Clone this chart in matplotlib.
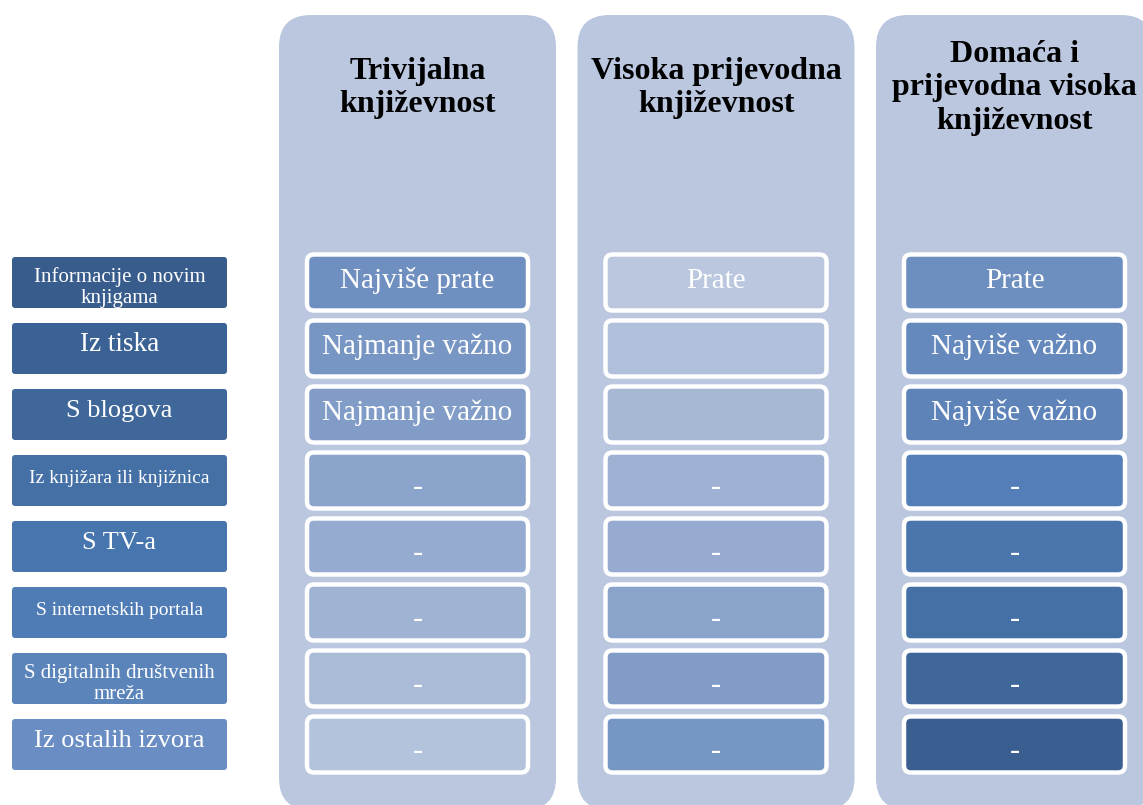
import matplotlib
matplotlib.use("Agg")
import matplotlib.pyplot as plt
from matplotlib.patches import FancyBboxPatch

# Row labels (sources of information)
row_labels = [
    "Informacije o novim\nknjigama",
    "Iz tiska",
    "S blogova",
    "Iz knjižara ili knjižnica",
    "S TV-a",
    "S internetskih portala",
    "S digitalnih društvenih\nmreža",
    "Iz ostalih izvora",
]
row_label_sizes = [15, 19.5, 19, 14, 19, 14, 15, 19]

# Column headers
col_titles = [
    "Trivijalna\nknjiževnost",
    "Visoka prijevodna\nknjiževnost",
    "Domaća i\nprijevodna visoka\nknjiževnost",
]

# Cell texts per column
cells_trivial = ["Najviše prate", "Najmanje važno", "Najmanje važno", "-", "-", "-", "-", "-"]
cells_translated = ["Prate", "", "", "-", "-", "-", "-", "-"]
cells_domestic = ["Prate", "Najviše važno", "Najviše važno", "-", "-", "-", "-", "-"]
col_cells = [cells_trivial, cells_translated, cells_domestic]

# Colours
label_colors = ["#385d8c", "#3b6294", "#3f6799", "#4470a6",
                "#4775ad", "#507cb5", "#5b84bb", "#6a8ec3"]
cell_colors = [
    ["#6f8fc0", "#7896c4", "#819dc7", "#8ba4cb", "#95acd0", "#9fb3d3", "#a9bbd7", "#b3c3dc"],
    ["#bac7de", "#b0c0da", "#a7b8d5", "#9eb1d2", "#96abcf", "#8aa3cb", "#809cc7", "#7697c4"],
    ["#6d8fc0", "#6689bd", "#5d83b9", "#537eb7", "#4a75ad", "#4570a6", "#3f679a", "#3a5e90"],
]
col_bg = "#bac7df"

W, H = 1143, 805
fig = plt.figure(figsize=(W / 100, H / 100), dpi=100)
ax = fig.add_axes([0, 0, 1, 1])
ax.set_xlim(0, W)
ax.set_ylim(H, 0)
ax.axis("off")

serif = ["Liberation Serif", "DejaVu Serif"]

# layout
row_top = 257
row_h = 51
row_pitch = 66
col_x0 = 279
col_w = 277
col_pitch = 298.5
cell_pad = 28

# left row labels
for i, (lab, fs) in enumerate(zip(row_labels, row_label_sizes)):
    y = row_top + i * row_pitch
    p = FancyBboxPatch((12, y), 215, row_h, boxstyle="round,pad=0,rounding_size=3",
                       facecolor=label_colors[i], edgecolor="none")
    ax.add_patch(p)
    if "\n" in lab:
        # baseline of the last line; text overflowing the box is cut off
        t = ax.text(119.5, y + 46, lab, ha="center", va="baseline", fontsize=fs,
                    color="white", family=serif, linespacing=1.12)
        t.set_clip_path(p)
    else:
        ax.text(119.5, y + 28, lab, ha="center", va="baseline",
                fontsize=fs, color="white", family=serif)

# columns
for c, title in enumerate(col_titles):
    x0 = col_x0 + c * col_pitch
    bg = FancyBboxPatch((x0, 15), col_w, 795, boxstyle="round,pad=0,rounding_size=32",
                        facecolor=col_bg, edgecolor="none")
    ax.add_patch(bg)
    ax.text(x0 + col_w / 2, 88, title, ha="center", va="center", fontsize=23,
            fontweight="bold", color="black", family=serif, linespacing=1.2)
    for i, txt in enumerate(col_cells[c]):
        y = row_top + i * row_pitch
        cell = FancyBboxPatch((x0 + cell_pad, y - 2.5), col_w - 2 * cell_pad, row_h + 5,
                              boxstyle="round,pad=0,rounding_size=7",
                              facecolor=cell_colors[c][i], edgecolor="white", linewidth=3.2)
        ax.add_patch(cell)
        if txt == "-":
            ax.text(x0 + col_w / 2, y + row_h / 2 + 14, txt, ha="center", va="baseline",
                    fontsize=22, color="white", family=serif)
        elif txt:
            ax.text(x0 + col_w / 2, y + row_h / 2 + 5.5, txt, ha="center", va="baseline",
                    fontsize=21, color="white", family=serif)

fig.savefig("out.png", dpi=100, facecolor="white")
